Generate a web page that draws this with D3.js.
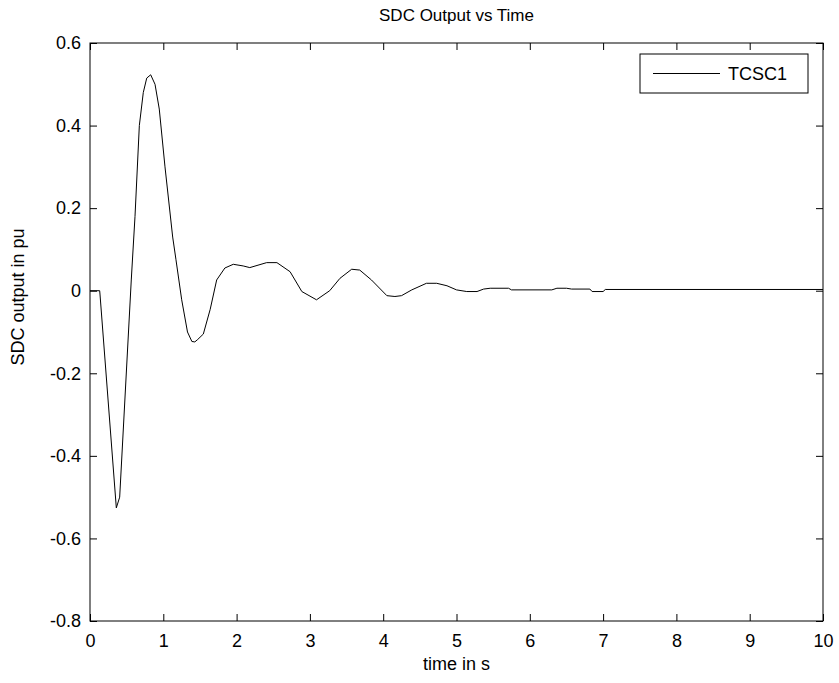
<!DOCTYPE html>
<html>
<head>
<meta charset="utf-8">
<script src="https://cdn.jsdelivr.net/npm/d3@7"></script>
<style>
  body { margin: 0; background: #fff; }
  text { font-family: "Liberation Sans", Arial, sans-serif; fill: #000; }
</style>
</head>
<body>
<script>
// SDC output trace
var time = [0, 0.132, 0.136, 0.359, 0.405, 0.563, 0.614, 0.673, 0.727, 0.774, 0.828, 0.887, 0.945,
    1.023, 1.128, 1.173, 1.251, 1.33, 1.39, 1.43, 1.47, 1.546, 1.64, 1.728, 1.84, 1.955, 2.09, 2.18,
    2.41, 2.55, 2.73, 2.89, 3.09, 3.27, 3.41, 3.57, 3.68, 3.84, 4.05, 4.16, 4.25, 4.39, 4.59,
    4.73, 4.87, 5.0, 5.14, 5.28, 5.37, 5.46, 5.71, 5.75, 6.30, 6.37, 6.50, 6.57, 6.82, 6.85,
    7.0, 7.03, 10];
var sdc = [0, 0, -0.008, -0.526, -0.50, 0.026, 0.18, 0.40, 0.48, 0.515, 0.523, 0.50, 0.44,
    0.30, 0.13, 0.075, -0.022, -0.10, -0.123, -0.124, -0.118, -0.105, -0.045, 0.026, 0.055, 0.064, 0.06, 0.056,
    0.068, 0.068, 0.046, -0.002, -0.022, 0, 0.03, 0.052, 0.05, 0.026, -0.012, -0.014, -0.012, 0.002, 0.018,
    0.018, 0.012, 0.002, -0.002, -0.002, 0.004, 0.006, 0.006, 0.002, 0.002, 0.006, 0.006, 0.004, 0.004, -0.002,
    -0.002, 0.003, 0.003];
var xTicks = [0, 1, 2, 3, 4, 5, 6, 7, 8, 9, 10];
var yTicks = [-0.8, -0.6, -0.4, -0.2, 0, 0.2, 0.4, 0.6];
var seriesName = "TCSC1";

var W = 839, H = 683;
var margin = {top: 43, right: 16, bottom: 62, left: 90};
var w = W - margin.left - margin.right, h = H - margin.top - margin.bottom;
var fs = "18px";

var svg = d3.select("body").append("svg").attr("width", W).attr("height", H);
var g = svg.append("g").attr("transform", "translate(" + margin.left + "," + margin.top + ")");

var x = d3.scaleLinear().domain([0, 10]).range([0, w]);
var y = d3.scaleLinear().domain([-0.8, 0.6]).range([h, 0]);

// matlab style labels: plain hyphen, "0" without decimals
var fmt = function(d) { return d === 0 ? "0" : d.toFixed(1); };

// bottom / left axes with labels, inward ticks
g.append("g").attr("transform", "translate(0," + h + ")")
    .call(d3.axisBottom(x).tickValues(xTicks).tickSize(-7).tickPadding(13).tickFormat(d3.format("d")))
    .call(function(a) { a.select(".domain").remove(); });
g.append("g")
    .call(d3.axisLeft(y).tickValues(yTicks).tickSize(-7).tickPadding(9).tickFormat(fmt))
    .call(function(a) { a.select(".domain").remove(); });
// top / right ticks, no labels
g.append("g")
    .call(d3.axisTop(x).tickValues(xTicks).tickSize(-7).tickFormat(""))
    .call(function(a) { a.select(".domain").remove(); });
g.append("g").attr("transform", "translate(" + w + ",0)")
    .call(d3.axisRight(y).tickValues(yTicks).tickSize(-7).tickFormat(""))
    .call(function(a) { a.select(".domain").remove(); });

g.selectAll(".tick text").style("font-size", fs).style("font-family", "'Liberation Sans', Arial, sans-serif");
g.selectAll(".tick line").attr("stroke", "#000");

g.append("rect").attr("width", w).attr("height", h)
    .attr("fill", "none").attr("stroke", "#000").attr("stroke-width", 1);

var line = d3.line()
    .x(function(d, i) { return x(time[i]); })
    .y(function(d) { return y(d); });

g.append("path").datum(sdc)
    .attr("d", line)
    .attr("fill", "none")
    .attr("stroke", "#000")
    .attr("stroke-width", 1);

// legend
var lg = svg.append("g").attr("transform", "translate(640,54)");
lg.append("rect").attr("width", 168).attr("height", 39)
    .attr("fill", "#fff").attr("stroke", "#000");
lg.append("line").attr("x1", 13).attr("x2", 80).attr("y1", 19.5).attr("y2", 19.5)
    .attr("stroke", "#000");
lg.append("text").attr("x", 88).attr("y", 26).style("font-size", fs).text(seriesName);

// titles
svg.append("text").attr("x", margin.left + w / 2).attr("y", 21)
    .attr("text-anchor", "middle").style("font-size", "17px").text("SDC Output vs Time");
svg.append("text").attr("x", margin.left + w / 2).attr("y", 670)
    .attr("text-anchor", "middle").style("font-size", fs).text("time in s");
svg.append("text").attr("transform", "translate(24," + 297 + ") rotate(-90)")
    .attr("text-anchor", "middle").style("font-size", fs).text("SDC output in pu");
</script>
</body>
</html>
